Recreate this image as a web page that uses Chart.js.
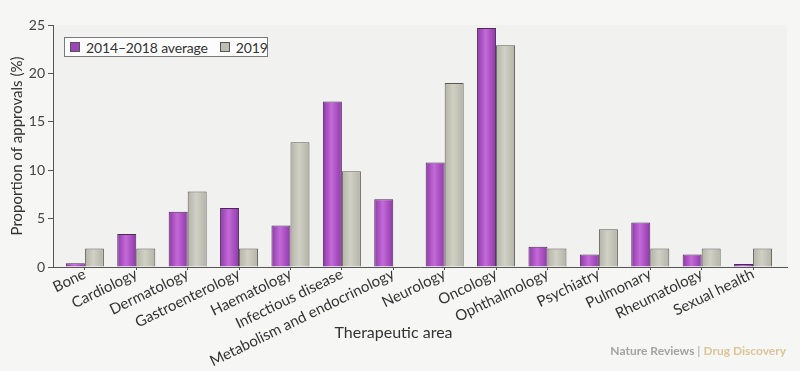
<!DOCTYPE html>
<html>
<head>
<meta charset="utf-8">
<script src="https://cdn.jsdelivr.net/npm/chart.js@4/dist/chart.umd.min.js"></script>
<style>
  html, body { margin: 0; padding: 0; background: #f6f6f5; }
  #wrap { position: relative; width: 800px; height: 371px; font-family: Lato, 'Open Sans', sans-serif; }
  #legend {
    position: absolute; left: 64px; top: 37px; height: 18px; width: 194px;
    background: #fcfcfc; border: 1px solid #7a7a7a;
    display: flex; align-items: center; padding: 0 3px 0 5px;
    font-size: 14px; letter-spacing: -0.15px; color: #333; white-space: nowrap;
  }
  #legend span.box { display: inline-block; width: 8px; height: 8px; border: 1px solid #555; margin-right: 6px; }
  #legend span.item { display: inline-flex; align-items: center; margin-right: 12px; }
  #legend span.item:last-child { margin-right: 0; }
  #credit { position: absolute; right: 14px; top: 343px; font-size: 12px; font-weight: 700; }
</style>
</head>
<body>
<div id="wrap">
  <canvas id="mainChart" width="800" height="371"></canvas>
  <div id="legend"></div>
  <div id="credit"><span style="color:#a3a3a3">Nature Reviews</span><span style="color:#b9b9b9"> | </span><span style="color:#dcc596">Drug Discovery</span></div>
</div>
<script>
const categories = [
  'Bone', 'Cardiology', 'Dermatology', 'Gastroenterology', 'Haematology',
  'Infectious disease', 'Metabolism and endocrinology', 'Neurology', 'Oncology',
  'Ophthalmology', 'Psychiatry', 'Pulmonary', 'Rheumatology', 'Sexual health'
];
const avg20142018 = [0.4, 3.4, 5.7, 6.1, 4.3, 17.1, 7.0, 10.8, 24.7, 2.1, 1.3, 4.6, 1.3, 0.3];
const values2019 = [1.9, 1.9, 7.8, 1.9, 12.9, 9.9, 0, 19.0, 22.9, 1.9, 3.9, 1.9, 1.9, 1.9];
const yTicks = [0, 5, 10, 15, 20, 25];

const catPct = 0.74;

// cylinder-like shading across each bar
function barFill(dark, light, side) {
  return function(c) {
    var xs = c.chart.scales.x;
    if (!xs || c.dataIndex === undefined) return dark;
    var cx = xs.getPixelForValue(c.dataIndex);
    var w = (xs.getPixelForValue(1) - xs.getPixelForValue(0)) * catPct / 2;
    if (!isFinite(cx) || !isFinite(w)) return dark;
    var x0 = side < 0 ? cx - w : cx;
    var g = c.chart.ctx.createLinearGradient(x0, 0, x0 + w, 0);
    g.addColorStop(0, dark);
    g.addColorStop(0.45, light);
    g.addColorStop(1, dark);
    return g;
  };
}

const panelBg = {
  id: 'panelBg',
  beforeDraw: function(chart) {
    var a = chart.chartArea, ctx = chart.ctx;
    ctx.save();
    ctx.fillStyle = '#f1f1ef';
    ctx.fillRect(a.left, a.top, a.right - a.left, a.bottom - a.top);
    ctx.restore();
  }
};

const datasets = [
  {
    label: '2014\u20132018 average',
    data: avg20142018.map(function(v, i) { return { x: i, y: v }; }),
    backgroundColor: barFill('#8e38a8', '#c46ad8', -1),
    borderColor: '#4a2a55', borderWidth: 1, borderSkipped: 'start',
    legendColor: '#9c45b8'
  },
  {
    label: '2019',
    data: values2019.map(function(v, i) { return { x: i, y: v }; }),
    backgroundColor: barFill('#b3b3a5', '#d0d0c6', 1),
    borderColor: '#5a5a55', borderWidth: 1, borderSkipped: 'start',
    legendColor: '#bdbdb1'
  }
];

const ctx = document.getElementById('mainChart').getContext('2d');
const chart = new Chart(ctx, {
  type: 'bar',
  data: { datasets: datasets },
  plugins: [panelBg],
  options: {
    responsive: false,
    animation: false,
    categoryPercentage: catPct,
    barPercentage: 1,
    layout: { padding: { top: 25, left: 0, right: 13, bottom: 0 } },
    plugins: {
      legend: { display: false },
      tooltip: { enabled: false },
      // thin box at the bottom; text lifted up over the rotated labels
      title: {
        display: true, position: 'bottom', text: 'Therapeutic area', color: '#333',
        font: { family: 'Lato', size: 16, weight: 'normal' },
        padding: { top: -42.6, bottom: 28.4 }
      }
    },
    scales: {
      x: {
        type: 'linear', min: -0.62, max: 13.66, offset: false,
        afterFit: function(s) { s.height = 99; },
        grid: { display: true, drawOnChartArea: false, offset: false, tickLength: 3, color: '#555' },
        border: { display: true, color: '#555', width: 1 },
        ticks: {
          stepSize: 1, includeBounds: false, autoSkip: false,
          minRotation: 26, maxRotation: 26, padding: -5,
          color: '#333', font: { family: 'Lato', size: 15 },
          callback: function(v) { return Number.isInteger(v) ? categories[v] : ''; }
        }
      },
      y: {
        min: 0, max: 25,
        afterFit: function(s) { s.width = 53; },
        afterBuildTicks: function(s) { s.ticks = yTicks.map(function(v) { return { value: v }; }); },
        grid: { drawOnChartArea: false, tickLength: 5, color: '#555' },
        border: { display: true, color: '#555', width: 1 },
        ticks: { color: '#444', padding: 3, font: { family: 'Lato', size: 14 } },
        title: {
          display: true, text: 'Proportion of approvals (%)', color: '#333',
          font: { family: 'Lato', size: 15 }, padding: { top: 8, bottom: 0 }
        }
      }
    }
  }
});

// html legend built from the datasets
var legendEl = document.getElementById('legend');
chart.data.datasets.forEach(function(ds) {
  var item = document.createElement('span');
  item.className = 'item';
  var box = document.createElement('span');
  box.className = 'box';
  box.style.background = ds.legendColor;
  item.appendChild(box);
  item.appendChild(document.createTextNode(ds.label));
  legendEl.appendChild(item);
});
</script>
</body>
</html>
